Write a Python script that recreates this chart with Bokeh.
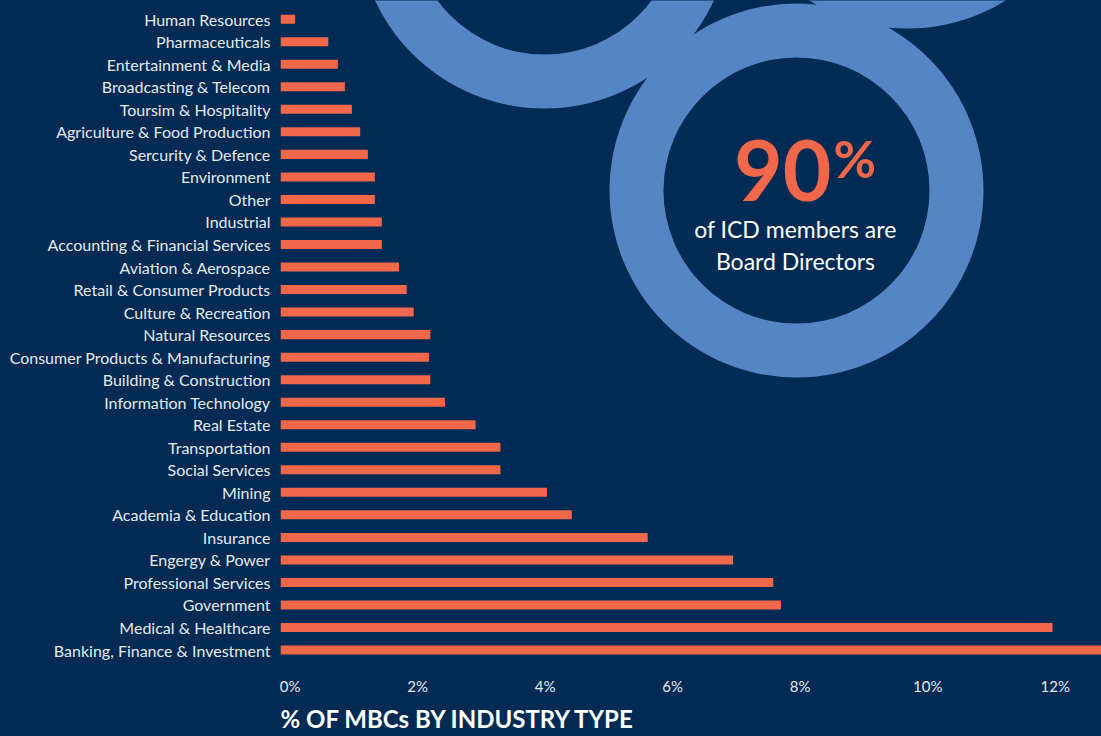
from bokeh.plotting import figure
from bokeh.models import Range1d, LinearAxis, FixedTicker, Label, LinearScale, Title
from bokeh.embed import file_html
from bokeh.resources import INLINE

# ---------------- data (top to bottom as in the chart) ----------------
industries = [
    "Human Resources", "Pharmaceuticals", "Entertainment & Media",
    "Broadcasting & Telecom", "Toursim & Hospitality",
    "Agriculture & Food Production", "Sercurity & Defence", "Environment",
    "Other", "Industrial", "Accounting & Financial Services",
    "Aviation & Aerospace", "Retail & Consumer Products",
    "Culture & Recreation", "Natural Resources",
    "Consumer Products & Manufacturing", "Building & Construction",
    "Information Technology", "Real Estate", "Transportation",
    "Social Services", "Mining", "Academia & Education", "Insurance",
    "Engergy & Power", "Professional Services", "Government",
    "Medical & Healthcare", "Banking, Finance & Investment",
]
shares = [
    0.23, 0.75, 0.90, 1.01, 1.12,
    1.25, 1.37, 1.48,
    1.48, 1.59, 1.59,
    1.86, 1.98,
    2.09, 2.35,
    2.33, 2.35,
    2.58, 3.06, 3.45,
    3.45, 4.18, 4.57, 5.76,
    7.10, 7.73, 7.85,
    12.11, 13.30,
]
tick_values = [0, 2, 4, 6, 8, 10, 12]
tick_labels = ["0%", "2%", "4%", "6%", "8%", "10%", "12%"]

headline_value = "90"
headline_unit = "%"
headline_lines = ["of ICD members are", "Board Directors"]
chart_title = "% OF MBCs BY INDUSTRY TYPE"

# ---------------- style ----------------
BG = "#012a54"
RING = "#5486c6"
BAR = "#f0674a"
LABEL = "#e4e9f0"
FONT = "Lato"

W, H = 1101, 736
LEFT, BOTTOM = 280, 663
ROW_PX = 22.53
FIRST_ROW_Y = 18.7

n = len(industries)
rows = [n - 1 - i for i in range(n)]  # first industry at the top

Y_START = -(BOTTOM - (FIRST_ROW_Y + (n - 1) * ROW_PX)) / ROW_PX
Y_END = Y_START + BOTTOM / ROW_PX

PX_PER_UNIT = 63.75
X_END = (W - LEFT) / PX_PER_UNIT
TICK_SHIFT = 9.7 / PX_PER_UNIT

p = figure(
    width=W, height=H,
    output_backend="svg", toolbar_location=None,
    x_range=Range1d(0, X_END),
    y_range=Range1d(Y_START, Y_END),
    x_axis_location=None, y_axis_location=None,
    min_border_left=LEFT, min_border_right=0,
    min_border_top=0, min_border_bottom=H - BOTTOM,
)
# helper pixel-like ranges for decorations (page coordinates)
p.extra_x_ranges = {
    "px": Range1d(LEFT, W),
    "tk": Range1d(-TICK_SHIFT, X_END - TICK_SHIFT),
}
p.extra_x_scales = {"px": LinearScale(), "tk": LinearScale()}
p.extra_y_ranges = {"py": Range1d(BOTTOM, 0)}
p.extra_y_scales = {"py": LinearScale()}

p.background_fill_color = BG
p.border_fill_color = BG
p.outline_line_color = None
p.grid.visible = False

# decorative rings
p.annulus(
    x=[544, 796, 907], y=[-79, 190, -159],
    inner_radius=133, outer_radius=187,
    inner_radius_units="screen", outer_radius_units="screen",
    x_range_name="px", y_range_name="py",
    fill_color=RING, line_color=None,
)

# bars
p.hbar(y=rows, right=shares, left=0, height=0.4,
       fill_color=BAR, line_color=None)

# y axis (category labels)
ya = LinearAxis(
    ticker=FixedTicker(ticks=rows),
    major_label_overrides={r: name for r, name in zip(rows, industries)},
)
ya.major_label_text_font = FONT
ya.major_label_text_font_size = "16px"
ya.major_label_text_color = LABEL
ya.axis_line_color = None
ya.major_tick_line_color = None
ya.minor_tick_line_color = None
ya.major_tick_out = 0
ya.major_tick_in = 0
ya.major_label_standoff = 10
p.add_layout(ya, "left")

# x axis (percent ticks)
xa = LinearAxis(
    x_range_name="tk",
    ticker=FixedTicker(ticks=tick_values),
    major_label_overrides={v: l for v, l in zip(tick_values, tick_labels)},
)
xa.axis_line_color = None
xa.major_tick_line_color = None
xa.minor_tick_line_color = None
xa.major_tick_out = 0
xa.major_tick_in = 0
xa.major_label_standoff = 13
xa.major_label_text_font = FONT
xa.major_label_text_font_size = "15px"
xa.major_label_text_color = LABEL
p.add_layout(xa, "below")

# chart title below the axis
p.add_layout(Title(
    text=chart_title, align="left", standoff=8, text_line_height=0.8,
    text_font=FONT, text_font_style="bold", text_font_size="24px",
    text_color="#ffffff"), "below")

# headline inside the big ring
p.add_layout(Label(
    x=831, y=170, text=headline_value, text_align="right",
    text_baseline="alphabetic", text_font=FONT, text_font_style="bold",
    text_font_size="84px", text_color=BAR,
    x_range_name="px", y_range_name="py"))
p.add_layout(Label(
    x=833, y=157, text=headline_unit, text_align="left",
    text_baseline="alphabetic", text_font=FONT, text_font_style="bold",
    text_font_size="52px", text_color=BAR,
    x_range_name="px", y_range_name="py"))
for i, line in enumerate(headline_lines):
    p.add_layout(Label(
        x=795, y=228 + 32 * i, text=line, text_align="center",
        text_baseline="alphabetic", text_font=FONT,
        text_font_size="23px", text_color="#ffffff",
        x_range_name="px", y_range_name="py"))

html = file_html(p, INLINE)
html = html.replace(
    "</head>",
    "<style>html,body{margin:0;padding:0;background:#012a54;overflow:hidden}</style></head>",
    1,
)
open("out.html", "w").write(html)
